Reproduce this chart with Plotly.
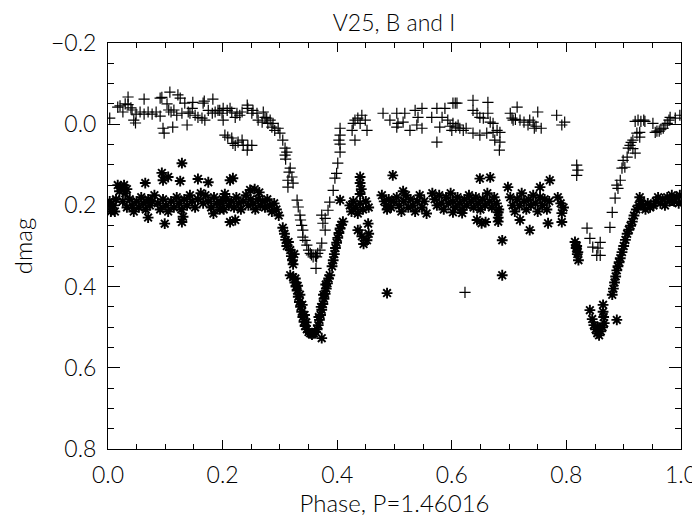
import plotly.graph_objects as go

# B band ("+") : (phase, dmag)
B_points = [
    (0.003, -0.015), (0.017, -0.042), (0.021, -0.045), (0.026, -0.030), (0.030, -0.050),
    (0.035, -0.048), (0.035, -0.067), (0.040, -0.040), (0.042, -0.035), (0.045, -0.010),
    (0.048, -0.003), (0.049, -0.025), (0.056, -0.030), (0.063, -0.025), (0.063, -0.062),
    (0.070, -0.030), (0.077, -0.025), (0.084, -0.030), (0.091, -0.020), (0.091, -0.064),
    (0.094, -0.066), (0.096, 0.010), (0.098, 0.022), (0.103, -0.050), (0.106, -0.035),
    (0.108, -0.079), (0.110, -0.030), (0.113, 0.007), (0.115, -0.035), (0.120, -0.022),
    (0.122, -0.072), (0.126, -0.064), (0.129, -0.027), (0.134, -0.052), (0.138, 0.002),
    (0.140, -0.030), (0.143, -0.027), (0.147, -0.039), (0.148, -0.054), (0.152, -0.022),
    (0.157, -0.017), (0.164, -0.015), (0.166, -0.052), (0.168, -0.057), (0.169, -0.010),
    (0.175, -0.034), (0.182, -0.027), (0.183, -0.062), (0.187, -0.030), (0.192, -0.034),
    (0.199, -0.027), (0.201, -0.010), (0.195, -0.034), (0.201, -0.039), (0.208, -0.034),
    (0.213, -0.039), (0.216, -0.030), (0.222, -0.017), (0.225, -0.027), (0.230, -0.022),
    (0.234, -0.030), (0.243, -0.047), (0.244, -0.039), (0.251, -0.027), (0.253, -0.034),
    (0.260, -0.027), (0.262, -0.010), (0.269, -0.005), (0.271, -0.030), (0.274, -0.017),
    (0.277, -0.015), (0.279, -0.002), (0.283, -0.010), (0.286, 0.007), (0.288, -0.002),
    (0.291, 0.015), (0.297, 0.010), (0.300, 0.022), (0.305, 0.039),
    (0.204, 0.027), (0.209, 0.032), (0.216, 0.034), (0.218, 0.047), (0.222, 0.052),
    (0.227, 0.044), (0.234, 0.039), (0.236, 0.052), (0.243, 0.064), (0.244, 0.052),
    (0.251, 0.052),
    (0.309, 0.059), (0.312, 0.069), (0.309, 0.076), (0.310, 0.086), (0.314, 0.138),
    (0.314, 0.155), (0.316, 0.118), (0.318, 0.108), (0.321, 0.130), (0.323, 0.145),
    (0.330, 0.187), (0.332, 0.204), (0.335, 0.224), (0.336, 0.236), (0.338, 0.249),
    (0.340, 0.261), (0.340, 0.278), (0.344, 0.286), (0.347, 0.298), (0.350, 0.310),
    (0.353, 0.318), (0.355, 0.322), (0.358, 0.327), (0.362, 0.325), (0.363, 0.355),
    (0.364, 0.327), (0.366, 0.318), (0.370, 0.310), (0.373, 0.293), (0.379, 0.261),
    (0.375, 0.244), (0.379, 0.232), (0.373, 0.224), (0.384, 0.212), (0.387, 0.192),
    (0.393, 0.163), (0.396, 0.133), (0.399, 0.121), (0.401, 0.096), (0.405, 0.069),
    (0.405, 0.049), (0.403, 0.039), (0.405, 0.027), (0.405, 0.010),
    (0.426, 0.015), (0.428, -0.002), (0.431, -0.010), (0.431, 0.039), (0.436, -0.015),
    (0.440, -0.002), (0.443, -0.022), (0.449, -0.010), (0.452, 0.015), (0.440, 0.261),
    (0.480, -0.027), (0.492, -0.010), (0.504, -0.027), (0.504, 0.007), (0.506, -0.002),
    (0.515, -0.005), (0.518, -0.027), (0.527, 0.015), (0.536, -0.034), (0.539, 0.002),
    (0.541, -0.017), (0.548, 0.010), (0.548, -0.039), (0.565, -0.017), (0.574, -0.039),
    (0.574, 0.044), (0.579, 0.007), (0.583, -0.017), (0.588, -0.039), (0.593, -0.010),
    (0.597, 0.005), (0.600, 0.015), (0.602, -0.002), (0.602, -0.052), (0.606, -0.052),
    (0.607, 0.007), (0.609, -0.052), (0.611, 0.002), (0.614, 0.010), (0.620, 0.015),
    (0.625, 0.010), (0.623, 0.414),
    (0.637, -0.059), (0.637, -0.034), (0.637, 0.022), (0.644, -0.027), (0.649, -0.017),
    (0.649, 0.027), (0.655, -0.015), (0.661, 0.022), (0.663, -0.054), (0.663, -0.027),
    (0.667, -0.005), (0.672, -0.002), (0.672, 0.020), (0.675, 0.039), (0.679, 0.015),
    (0.684, 0.020), (0.684, 0.044), (0.683, 0.064),
    (0.702, -0.027), (0.705, -0.015), (0.707, -0.010), (0.711, -0.012), (0.714, -0.042),
    (0.719, -0.010), (0.726, -0.005), (0.733, 0.002), (0.736, -0.010), (0.742, -0.005),
    (0.744, 0.010), (0.747, 0.005), (0.750, -0.030), (0.756, 0.010), (0.783, -0.022),
    (0.792, 0.002), (0.797, -0.005),
    (0.818, 0.101), (0.820, 0.113), (0.818, 0.126), (0.836, 0.256), (0.841, 0.281),
    (0.846, 0.303), (0.855, 0.305), (0.859, 0.291), (0.859, 0.323), (0.853, 0.323),
    (0.876, 0.254), (0.880, 0.217), (0.885, 0.182), (0.888, 0.150), (0.890, 0.158),
    (0.894, 0.138), (0.897, 0.108), (0.899, 0.089), (0.902, 0.106), (0.906, 0.081),
    (0.908, 0.059), (0.911, 0.052), (0.913, 0.045), (0.916, 0.039), (0.916, 0.060),
    (0.920, 0.071), (0.923, 0.022), (0.928, 0.020), (0.928, 0.032), (0.920, -0.007),
    (0.925, -0.010), (0.930, -0.007), (0.935, -0.010), (0.937, -0.007), (0.951, -0.002),
    (0.955, 0.020), (0.958, 0.017), (0.962, 0.017), (0.965, 0.012), (0.969, 0.010),
    (0.972, 0.002), (0.976, -0.002), (0.979, -0.010), (0.981, -0.017), (0.990, -0.015),
    (0.998, -0.022),
]

# I band ("*") : (phase, dmag)
I_points = [
    (0.003, 0.190), (0.003, 0.200), (0.005, 0.215), (0.010, 0.200), (0.014, 0.185),
    (0.012, 0.215), (0.017, 0.150), (0.022, 0.155), (0.028, 0.150), (0.033, 0.160),
    (0.020, 0.165), (0.030, 0.170), (0.026, 0.190), (0.033, 0.205), (0.038, 0.185),
    (0.042, 0.200), (0.045, 0.215), (0.050, 0.190), (0.054, 0.205), (0.058, 0.180),
    (0.062, 0.195), (0.066, 0.210), (0.070, 0.185), (0.073, 0.200), (0.077, 0.190),
    (0.081, 0.175), (0.070, 0.230), (0.065, 0.145), (0.094, 0.120), (0.105, 0.130),
    (0.096, 0.138), (0.099, 0.245), (0.129, 0.096), (0.126, 0.140), (0.087, 0.195),
    (0.091, 0.210), (0.096, 0.185), (0.101, 0.200), (0.105, 0.215), (0.110, 0.190),
    (0.115, 0.205), (0.120, 0.180), (0.124, 0.195), (0.128, 0.210), (0.133, 0.185),
    (0.138, 0.200), (0.143, 0.175), (0.147, 0.190), (0.152, 0.205), (0.157, 0.185),
    (0.162, 0.170), (0.166, 0.195), (0.129, 0.241), (0.131, 0.228), (0.157, 0.135),
    (0.175, 0.143), (0.170, 0.175), (0.175, 0.190), (0.180, 0.205), (0.185, 0.180),
    (0.190, 0.195), (0.195, 0.210), (0.200, 0.185), (0.204, 0.172), (0.184, 0.220),
    (0.213, 0.138), (0.218, 0.133), (0.197, 0.195), (0.202, 0.210), (0.207, 0.185),
    (0.211, 0.200), (0.215, 0.190), (0.220, 0.205), (0.224, 0.180), (0.228, 0.195),
    (0.232, 0.210), (0.236, 0.190), (0.241, 0.175), (0.245, 0.200), (0.249, 0.185),
    (0.253, 0.195), (0.257, 0.210), (0.262, 0.185), (0.266, 0.200), (0.270, 0.190),
    (0.274, 0.205), (0.278, 0.185), (0.282, 0.200), (0.286, 0.215), (0.290, 0.195),
    (0.294, 0.210), (0.298, 0.225), (0.213, 0.241), (0.222, 0.236), (0.248, 0.162),
    (0.256, 0.160), (0.264, 0.168),
    (0.305, 0.255), (0.308, 0.270), (0.310, 0.285), (0.312, 0.300), (0.315, 0.290),
    (0.318, 0.310), (0.320, 0.325), (0.322, 0.335), (0.325, 0.320), (0.323, 0.345),
    (0.318, 0.372), (0.323, 0.377), (0.326, 0.390), (0.328, 0.400), (0.330, 0.410),
    (0.332, 0.425), (0.334, 0.438), (0.336, 0.450), (0.338, 0.462), (0.340, 0.475),
    (0.342, 0.487), (0.344, 0.497), (0.347, 0.505), (0.350, 0.512), (0.327, 0.380),
    (0.331, 0.398), (0.335, 0.420), (0.339, 0.445), (0.343, 0.470), (0.346, 0.488),
    (0.353, 0.515), (0.356, 0.518), (0.359, 0.515), (0.362, 0.512), (0.373, 0.527),
    (0.365, 0.505), (0.367, 0.495), (0.369, 0.482), (0.371, 0.470), (0.373, 0.457),
    (0.375, 0.443), (0.377, 0.430), (0.379, 0.418), (0.381, 0.405), (0.383, 0.392),
    (0.385, 0.380), (0.387, 0.372), (0.368, 0.475), (0.372, 0.450), (0.376, 0.420),
    (0.380, 0.395),
    (0.391, 0.350), (0.393, 0.335), (0.395, 0.320), (0.397, 0.305), (0.399, 0.292),
    (0.401, 0.280), (0.403, 0.268), (0.405, 0.257), (0.407, 0.248), (0.410, 0.240),
    (0.405, 0.187), (0.422, 0.200), (0.425, 0.215), (0.428, 0.190), (0.432, 0.205),
    (0.436, 0.220), (0.440, 0.195), (0.445, 0.210), (0.450, 0.190), (0.455, 0.205),
    (0.440, 0.130), (0.440, 0.145), (0.442, 0.160), (0.440, 0.172), (0.436, 0.261),
    (0.443, 0.276), (0.446, 0.295), (0.452, 0.286), (0.455, 0.270), (0.454, 0.245),
    (0.487, 0.416), (0.497, 0.126), (0.478, 0.175), (0.482, 0.190), (0.486, 0.200),
    (0.490, 0.185), (0.494, 0.205), (0.498, 0.190), (0.487, 0.210), (0.504, 0.180),
    (0.508, 0.200), (0.512, 0.215), (0.516, 0.190), (0.520, 0.175), (0.524, 0.205),
    (0.528, 0.185), (0.532, 0.200), (0.536, 0.215), (0.540, 0.190), (0.544, 0.175),
    (0.548, 0.205), (0.552, 0.190), (0.556, 0.220), (0.515, 0.165),
    (0.566, 0.170), (0.570, 0.185), (0.574, 0.200), (0.578, 0.175), (0.582, 0.195),
    (0.586, 0.210), (0.590, 0.180), (0.594, 0.195), (0.598, 0.170), (0.602, 0.190),
    (0.606, 0.205), (0.602, 0.217), (0.618, 0.219), (0.610, 0.180), (0.614, 0.195),
    (0.618, 0.210), (0.622, 0.185), (0.626, 0.200), (0.630, 0.175), (0.634, 0.190),
    (0.638, 0.205), (0.642, 0.180), (0.646, 0.195), (0.650, 0.210), (0.654, 0.185),
    (0.658, 0.200), (0.662, 0.170), (0.666, 0.190), (0.670, 0.205), (0.674, 0.180),
    (0.678, 0.195), (0.682, 0.210), (0.649, 0.134), (0.667, 0.131), (0.644, 0.236),
    (0.652, 0.244), (0.659, 0.241), (0.681, 0.217), (0.681, 0.230), (0.681, 0.240),
    (0.688, 0.286), (0.688, 0.372), (0.698, 0.155),
    (0.702, 0.180), (0.706, 0.200), (0.710, 0.215), (0.714, 0.185), (0.718, 0.200),
    (0.722, 0.170), (0.726, 0.190), (0.730, 0.210), (0.734, 0.185), (0.738, 0.200),
    (0.742, 0.175), (0.746, 0.195), (0.750, 0.215), (0.754, 0.180), (0.758, 0.200),
    (0.762, 0.185), (0.766, 0.210), (0.770, 0.190), (0.754, 0.155), (0.771, 0.138),
    (0.719, 0.236), (0.736, 0.261), (0.768, 0.244), (0.785, 0.180), (0.790, 0.195),
    (0.795, 0.205), (0.792, 0.219), (0.792, 0.241),
    (0.815, 0.290), (0.817, 0.305), (0.819, 0.320), (0.821, 0.335), (0.818, 0.300),
    (0.820, 0.315), (0.841, 0.458), (0.864, 0.445), (0.864, 0.462), (0.845, 0.480),
    (0.848, 0.495), (0.851, 0.505), (0.854, 0.515), (0.857, 0.520), (0.860, 0.510),
    (0.863, 0.500), (0.866, 0.490), (0.865, 0.475), (0.855, 0.500), (0.888, 0.482),
    (0.880, 0.420), (0.882, 0.405), (0.884, 0.390), (0.886, 0.375), (0.888, 0.360),
    (0.890, 0.350), (0.892, 0.340), (0.894, 0.330), (0.897, 0.315), (0.900, 0.300),
    (0.903, 0.285), (0.906, 0.270), (0.909, 0.260), (0.912, 0.250), (0.915, 0.240),
    (0.918, 0.225), (0.922, 0.210), (0.926, 0.200), (0.930, 0.190), (0.934, 0.200),
    (0.938, 0.210), (0.942, 0.195), (0.946, 0.205), (0.928, 0.180), (0.952, 0.200),
    (0.956, 0.190), (0.960, 0.180), (0.964, 0.195), (0.968, 0.185), (0.972, 0.200),
    (0.976, 0.180), (0.980, 0.190), (0.984, 0.175), (0.988, 0.190), (0.992, 0.180),
    (0.996, 0.195), (0.998, 0.175),
]

B_phase = [p for p, _ in B_points]
B_dmag = [d for _, d in B_points]
I_phase = [p for p, _ in I_points]
I_dmag = [d for _, d in I_points]

x_tickvals = [0.0, 0.2, 0.4, 0.6, 0.8, 1.0]
x_ticktext = ["0.0", "0.2", "0.4", "0.6", "0.8", "1.0"]
y_tickvals = [-0.2, 0.0, 0.2, 0.4, 0.6, 0.8]
y_ticktext = ["\u22120.2", "0.0", "0.2", "0.4", "0.6", "0.8"]

FONT = "Lato, DejaVu Sans, sans-serif"
W = 300
FIG_W, FIG_H = 692, 510   # page body has an 8px margin

fig = go.Figure()
fig.add_trace(go.Scatter(
    x=B_phase, y=B_dmag, mode="markers",
    marker=dict(symbol="cross-thin-open", size=8, color="black",
                line=dict(color="black", width=1.2)),
    showlegend=False, name="B"))
fig.add_trace(go.Scatter(
    x=I_phase, y=I_dmag, mode="markers",
    marker=dict(symbol="asterisk-open", size=9, color="black",
                line=dict(color="black", width=1.9)),
    showlegend=False, name="I"))

fig.update_layout(
    width=FIG_W, height=FIG_H,
    margin=dict(l=100, r=19, t=35, b=69),
    paper_bgcolor="white", plot_bgcolor="white",
    font=dict(family=FONT, size=23, color="black", weight=W),
    title=dict(text="V25, B and I", x=(394 - 8) / FIG_W, xanchor="center",
               y=1 - (23 - 8) / FIG_H, yref="container", yanchor="middle",
               font=dict(family=FONT, size=23, color="black", weight=W)),
)
fig.update_xaxes(
    range=[0, 1], tickvals=x_tickvals, ticktext=x_ticktext,
    ticks="inside", ticklen=9, tickwidth=1, tickcolor="black",
    minor=dict(dtick=0.05, ticks="inside", ticklen=5, tickcolor="black", tickwidth=1),
    showline=True, linecolor="black", linewidth=1, mirror="ticks",
    showgrid=False, zeroline=False, ticklabelstandoff=5, automargin=False,
    tickfont=dict(family=FONT, size=23, weight=W),
    title=dict(text="Phase, P=1.46016", standoff=2,
               font=dict(family=FONT, size=24, weight=W)),
)
fig.update_yaxes(
    range=[0.8, -0.2], tickvals=y_tickvals, ticktext=y_ticktext,
    ticks="inside", ticklen=12, tickwidth=1, tickcolor="black",
    minor=dict(dtick=0.05, ticks="inside", ticklen=6, tickcolor="black", tickwidth=1),
    showline=True, linecolor="black", linewidth=1, mirror="ticks",
    showgrid=False, zeroline=False, ticklabelstandoff=6, automargin=False,
    tickfont=dict(family=FONT, size=23, weight=W),
    title=dict(text="dmag", standoff=31,
               font=dict(family=FONT, size=24, weight=W)),
)

fig.write_html("out.html")
